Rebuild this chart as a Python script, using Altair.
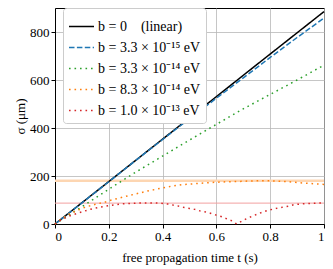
import altair as alt
import pandas as pd

# ---- data ----
labels = [
    "b = 0\u2003(linear)",
    "b = 3.3 \u00d7 10\u207b\u00b9\u2075 eV",
    "b = 3.3 \u00d7 10\u207b\u00b9\u2074 eV",
    "b = 8.3 \u00d7 10\u207b\u00b9\u2074 eV",
    "b = 1.0 \u00d7 10\u207b\u00b9\u00b3 eV",
]
colors = ["#000000", "#1f77b4", "#2ca02c", "#ff7f0e", "#d62728"]

t_black = [0.0, 0.25, 0.5, 0.75, 1.0]
s_black = [0, 221, 442, 664, 885]

t_blue = [0.0, 0.1, 0.2, 0.3, 0.4, 0.5, 0.6, 0.7, 0.8, 0.9, 1.0]
s_blue = [0, 88, 176, 265, 352, 439, 524, 609, 694, 777, 858]

t_green = [0.0, 0.1, 0.2, 0.3, 0.4, 0.5, 0.6, 0.7, 0.8, 0.9, 1.0]
s_green = [0, 72, 145, 216, 283, 350, 415, 480, 540, 600, 662]

t_orange = [0.0, 0.03, 0.056, 0.086, 0.117, 0.15, 0.185, 0.21, 0.235, 0.27, 0.31,
            0.35, 0.39, 0.43, 0.47, 0.51, 0.555, 0.6, 0.64, 0.68, 0.72, 0.76,
            0.8, 0.84, 0.88, 0.92, 0.96, 1.0]
s_orange = [0, 26, 44, 58, 72, 82, 91, 100, 107, 117, 128,
            139, 148, 157, 164, 167, 171, 174, 176, 177, 179, 180,
            180, 178, 175, 171, 168, 165]

t_red = [0.0, 0.02, 0.05, 0.09, 0.13, 0.17, 0.21, 0.25, 0.3, 0.35, 0.39, 0.42,
         0.444, 0.463, 0.48, 0.5, 0.52, 0.543, 0.56, 0.58, 0.6, 0.62, 0.64,
         0.66, 0.675, 0.695, 0.71, 0.73, 0.75, 0.77, 0.79, 0.81, 0.83, 0.85,
         0.87, 0.89, 0.91, 0.93, 0.95, 0.97, 1.0]
s_red = [0, 15, 32, 47, 61, 71, 78, 84, 87, 88, 87, 83,
         78, 74, 69, 65, 61, 53, 50, 44, 37, 30, 21,
         12, 0, 12, 21, 31, 40, 49, 56, 62, 67, 71,
         75, 81, 83, 85, 86, 87, 87]

h_values = [180, 87]
h_colors = ["#fdd6b2", "#f2a0a0"]
h_widths = [2.5, 1]

x_ticks = [0, 0.2, 0.4, 0.6, 0.8, 1]
y_ticks = [0, 200, 400, 600, 800]

# ---- build table ----
rows = []
for lab, ts, ss in zip(labels, [t_black, t_blue, t_green, t_orange, t_red],
                       [s_black, s_blue, s_green, s_orange, s_red]):
    for i, (t, s) in enumerate(zip(ts, ss)):
        rows.append({"series": lab, "t": t, "s": s, "i": i})
df = pd.DataFrame(rows)
hdf = pd.DataFrame({"y": h_values, "c": h_colors, "w": h_widths})

FONT = "Liberation Serif"

x_enc = alt.X("t:Q", scale=alt.Scale(domain=[0, 1], nice=False),
              axis=alt.Axis(values=x_ticks, format="~g",
                            title="free propagation time t (s)"))
y_scale = alt.Scale(domain=[0, 900], nice=False)

hrules = alt.Chart(hdf).mark_rule().encode(
    y=alt.Y("y:Q", scale=y_scale),
    color=alt.Color("c:N", scale=None),
    strokeWidth=alt.StrokeWidth("w:Q", scale=None),
)

lines = alt.Chart(df).mark_line(strokeWidth=1.5).encode(
    x=x_enc,
    y=alt.Y("s:Q", scale=y_scale,
            axis=alt.Axis(values=y_ticks, title="\u03c3 (\u03bcm)")),
    color=alt.Color("series:N",
                    scale=alt.Scale(domain=labels, range=colors),
                    legend=alt.Legend(title=None)),
    strokeDash=alt.StrokeDash("series:N",
                              scale=alt.Scale(domain=labels,
                                              range=[[1, 0], [5.5, 2.4], [1.6, 3.9],
                                                     [1.6, 3.9], [1.6, 3.9]]),
                              legend=alt.Legend(title=None)),
    order="i:Q",
)

chart = alt.layer(hrules, lines).properties(
    width=269, height=216,
    autosize=alt.AutoSizeParams(type="none"),
    padding={"left": 47, "top": 0, "right": 1, "bottom": 42},
).configure_view(
    stroke="black", strokeWidth=1
).configure_axis(
    labelFont=FONT, titleFont=FONT, labelFontSize=13, titleFontSize=13,
    titleFontWeight="normal", labelColor="black", titleColor="black",
    domainColor="black", tickColor="black", tickSize=4, labelPadding=2,
    gridColor="#b8b8b8", gridWidth=0.8, grid=True,
).configure_axisY(
    titlePadding=2,
).configure_axisX(
    titlePadding=8,
).configure_legend(
    orient="none", legendX=8, legendY=0,
    strokeColor="#cccccc", fillColor="white", padding=5, cornerRadius=3,
    labelFont=FONT, labelFontSize=14, labelColor="black",
    symbolType="stroke", symbolSize=625, symbolStrokeWidth=1.5,
    rowPadding=-7, labelOffset=3,
)

chart.save("out.html", embed_options={"renderer": "svg", "actions": False})
